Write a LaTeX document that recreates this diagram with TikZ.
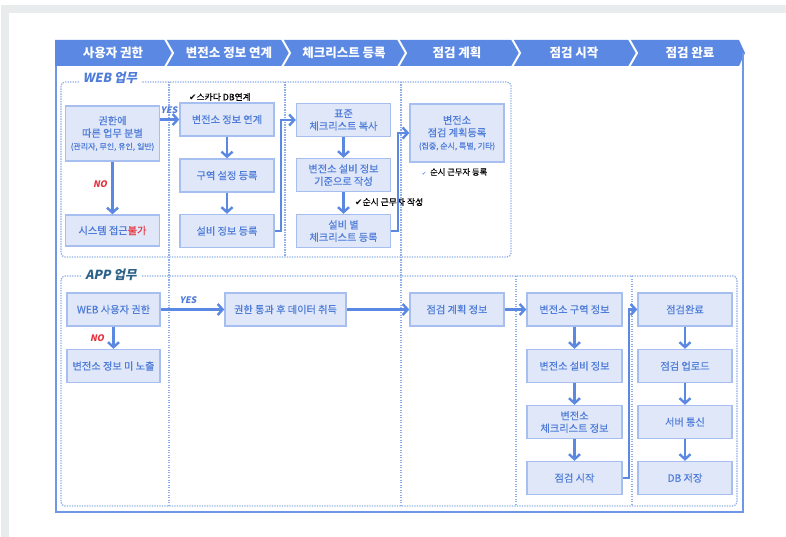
\documentclass[tikz,border=0pt]{standalone}
\usepackage{fontspec}
\setmainfont{Noto Sans CJK KR}
\newfontfamily\slfont{Noto Sans CJK KR}[FakeSlant=0.2]
\newfontfamily\boxfont{Noto Sans CJK KR}[FakeBold=0.4]
\newfontfamily\symf{DejaVu Sans}
\usetikzlibrary{arrows.meta,positioning}
\definecolor{graybg}{HTML}{E9ECEC}
\definecolor{hdr}{HTML}{5B88E2}
\definecolor{frame}{HTML}{6E98E6}
\definecolor{boxfill}{HTML}{DFE7F8}
\definecolor{boxline}{HTML}{A6BFF0}
\definecolor{boxtext}{HTML}{4F7CD9}
\definecolor{arrowc}{HTML}{5B88E2}
\definecolor{dotc}{HTML}{8EAEEA}
\definecolor{webc}{HTML}{4F7CD9}
\definecolor{appc}{HTML}{2B6288}
\definecolor{nored}{HTML}{E5343F}
\tikzset{
  box/.style={draw=boxline, fill=boxfill, line width=1.4pt, text=boxtext,
    minimum width=94pt, minimum height=33pt, inner sep=0pt, align=center,
    font=\fontsize{10.2}{12.5}\boxfont},
  conn/.style={draw=arrowc, line width=2.4pt, -{Straight Barb[length=5pt,width=11pt]}},
  dotbox/.style={draw=dotc, line width=1.3pt, dash pattern=on 1.3pt off 1.2pt, rounded corners=4pt},
  dotline/.style={draw=dotc, line width=1.3pt, dash pattern=on 1.3pt off 1.2pt},
  hdrtext/.style={text=white, font=\fontsize{12.5}{14}\selectfont\bfseries, inner sep=0pt},
  seclabel/.style={fill=white, inner xsep=4pt, inner ysep=1pt, font=\fontsize{12.5}{14}\selectfont\slfont\bfseries},
  yeslbl/.style={text=webc, font=\fontsize{9}{10}\selectfont\slfont\bfseries, inner sep=0pt},
  nolbl/.style={text=nored, font=\fontsize{9}{10}\selectfont\slfont\bfseries, inner sep=0pt},
  note/.style={text=black, font=\fontsize{8.8}{10}\boxfont, inner sep=0pt, anchor=west}
}
\begin{document}
\begin{tikzpicture}[x=1pt,y=-1pt]
\useasboundingbox (0,0) rectangle (786,537);
% background
\fill[graybg] (1,5) rectangle (786,537);
\fill[white] (9,13) rectangle (786,537);
% header bar
\fill[hdr] (55,40) -- (739,40) -- (745,53) -- (739,66) -- (55,66) -- cycle;
\foreach \sx in {165,282,398,512,629}{
  \draw[white, line width=2pt] (\sx,39) -- (\sx+8,53) -- (\sx,67);
}
\node[hdrtext] (h1) at (113,53) {사용자 권한};
\node[hdrtext] (h2) at (229,53) {변전소 정보 연계};
\node[hdrtext] (h3) at (344,53) {체크리스트 등록};
\node[hdrtext] (h4) at (457,53) {점검 계획};
\node[hdrtext] (h5) at (574,53) {점검 시작};
\node[hdrtext] (h6) at (690,53) {점검 완료};
% outer frame
\draw[frame, line width=2pt] (56,66) -- (56,512) -- (743,512) -- (743,53);
% dotted areas
\draw[dotbox] (61,82) rectangle (511,257);
\draw[dotbox] (61,276) rectangle (737,506);
\draw[dotline] (169,82) -- (169,506);
\draw[dotline] (401,82) -- (401,506);
\draw[dotline] (285,82) -- (285,257);
\draw[dotline] (516,276) -- (516,506);
\draw[dotline] (632,276) -- (632,506);
\node[seclabel, text=webc] (webl) at (110,78) {WEB 업무};
\node[seclabel, text=appc] (appl) at (111,275) {APP 업무};
% WEB nodes
\node[box, minimum height=55pt] (auth) at (112.5,133.5) {권한에\\따른 업무 분별\\{\fontsize{8}{9.5}\selectfont(관리자, 무인, 유인, 일반)}};
\node[box, minimum height=31pt] (sys) at (112.5,230.5) {시스템 접근\textcolor{nored}{불가}};
\node[box] (link) at (227,119.5) {변전소 정보 연계};
\node[box] (zone) at (227,175.5) {구역 설정 등록};
\node[box] (equip) at (227,231) {설비 정보 등록};
\node[box] (std) at (343.5,120) {표준\\체크리스트 복사};
\node[box] (base) at (343.5,175) {변전소 설비 정보\\기준으로 작성};
\node[box] (ckreg) at (343.5,231) {설비 별\\체크리스트 등록};
\node[box, minimum height=58pt] (plan) at (457,133) {변전소\\점검 계획등록\\{\fontsize{8}{9.5}\selectfont(집중, 순시, 특별, 기타)}};
% notes
\node[note] (n1) at (189,97) {{\symf ✔}스카다 DB연계};
\node[note] (n2) at (355,202) {{\symf ✔}순시 근무자 작성};
\node[note, font=\fontsize{8.3}{10}\boxfont] (n3) at (422,172) {{\symf\fontsize{5}{6}\selectfont\textcolor{arrowc}{✔}}\ \ 순시 근무자 등록};
% WEB connectors
\draw[conn] (auth) -- (sys);
\node[nolbl] (no1) at (100,184) {NO};
\draw[conn] (auth.east |- link.west) -- (link.west);
\node[yeslbl] (yes1) at (169,110) {YES};
\draw[conn] (link) -- (zone);
\draw[conn] (zone) -- (equip);
\draw[conn] (equip.east) -- ++(6,0) |- (std.west);
\draw[conn] (std) -- (base);
\draw[conn] (base) -- (ckreg);
\draw[conn] (ckreg.east) -- ++(7,0) |- (plan.west);
% APP nodes
\node[box, minimum width=93pt] (wauth) at (113.5,309.5) {WEB 사용자 권한};
\node[box, minimum width=93pt] (hide) at (113.5,366) {변전소 정보 미 노출};
\node[box, minimum width=121pt] (pass) at (285.5,309.5) {권한 통과 후 데이터 취득};
\node[box] (pinfo) at (457,309.5) {점검 계획 정보};
\node[box, minimum width=95pt] (szone) at (574.5,309.5) {변전소 구역 정보};
\node[box, minimum width=95pt] (sequip) at (574.5,366) {변전소 설비 정보};
\node[box, minimum width=95pt] (sck) at (574.5,422) {변전소\\체크리스트 정보};
\node[box, minimum width=95pt] (start) at (574.5,478) {점검 시작};
\node[box] (done) at (685,309.5) {점검완료};
\node[box] (upl) at (685,366) {점검 업로드};
\node[box] (srv) at (685,422) {서버 통신};
\node[box] (db) at (685,478) {DB 저장};
% APP connectors
\draw[conn] (wauth) -- (hide);
\node[nolbl] (no2) at (97,338) {NO};
\draw[conn] (wauth) -- (pass);
\node[yeslbl] (yes2) at (188,300) {YES};
\draw[conn] (pass) -- (pinfo);
\draw[conn] (pinfo) -- (szone);
\draw[conn] (szone) -- (sequip);
\draw[conn] (sequip) -- (sck);
\draw[conn] (sck) -- (start);
\draw[conn] (start.east) -- ++(6,0) |- (done.west);
\draw[conn] (done) -- (upl);
\draw[conn] (upl) -- (srv);
\draw[conn] (srv) -- (db);
\end{tikzpicture}
\end{document}
